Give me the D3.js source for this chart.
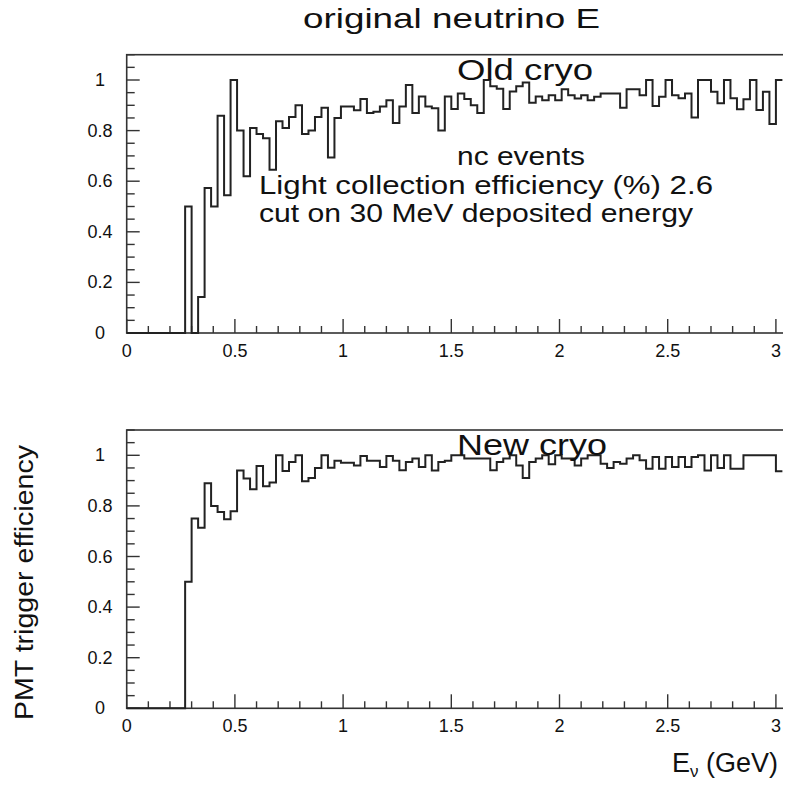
<!DOCTYPE html>
<meta charset="utf-8">
<style>
body { margin: 0; background: #fff; }
svg { font-family: "Liberation Sans", "DejaVu Sans", sans-serif; }
.frame { fill: none; stroke: #333; stroke-width: 1.6px; }
.hist { fill: none; stroke: #222; stroke-width: 2px; }
.tick { stroke: #333; stroke-width: 1.4px; }
.lbl { font-size: 18px; fill: #111; }
.note { fill: #111; }
</style>
<body>
<script src="https://d3js.org/d3.v7.min.js"></script>
<script>

// histogram bins: 0.03 GeV wide, first filled bin starts at 0.27 GeV
var firstBin = 0.27, binWidth = 0.03;

// Old cryo efficiency per bin (0.27 .. 3.03 GeV)
var oldCryo = [
  0.50, 0, 0.142, 0.573, 0.50, 0.859, 0.544, 1.0, 0.80, 0.62,
  0.81, 0.787, 0.77, 0.645, 0.837, 0.81, 0.854, 0.90, 0.787, 0.80,
  0.854, 0.89, 0.694, 0.85, 0.895, 0.895, 0.88, 0.925, 0.87, 0.875,
  0.895, 0.92, 0.83, 0.895, 0.98, 0.87, 0.935, 0.895, 0.888, 0.80,
  0.935, 0.885, 0.947, 0.925, 0.90, 0.87, 1.0, 0.975, 0.965, 0.885,
  0.955, 0.975, 0.99, 0.91, 0.935, 0.92, 0.94, 0.92, 0.963, 0.94,
  0.927, 0.94, 0.92, 0.934, 0.947, 0.947, 0.947, 0.89, 0.963, 0.963,
  0.94, 1.0, 0.897, 0.934, 1.0, 0.94, 0.928, 0.947, 0.852, 1.0,
  1.0, 0.954, 0.908, 1.0, 0.928, 0.884, 0.924, 1.0, 0.881, 0.954,
  0.826, 1.0
];

// New cryo efficiency per bin (0.27 .. 3.03 GeV)
var newCryo = [
  0.50, 0.75, 0.714, 0.89, 0.80, 0.776, 0.747, 0.779, 0.94, 0.908,
  0.866, 0.958, 0.878, 0.892, 1.0, 0.938, 0.974, 1.0, 0.897, 0.91,
  0.95, 1.0, 0.951, 0.978, 0.971, 0.971, 0.96, 0.997, 0.978, 0.978,
  0.954, 0.997, 0.978, 0.941, 0.974, 0.987, 0.954, 1.0, 0.94, 0.974,
  0.978, 1.0, 1.0, 0.987, 0.987, 0.987, 0.987, 0.941, 0.974, 0.987,
  1.0, 0.96, 0.91, 0.974, 0.987, 1.0, 0.965, 1.0, 0.987, 0.987,
  0.96, 0.987, 1.0, 1.0, 0.967, 0.95, 0.974, 0.967, 0.987, 1.0,
  0.98, 0.947, 0.993, 0.947, 0.993, 0.954, 0.993, 0.954, 0.993, 1.0,
  0.94, 1.0, 0.95, 1.0, 0.947, 0.947, 1.0, 1.0, 1.0, 1.0,
  1.0, 0.937
];

var xTicks = [0, 0.5, 1, 1.5, 2, 2.5, 3];
var yTicks = [0, 0.2, 0.4, 0.6, 0.8, 1];
var tickFmt = d3.format("~g");

var W = 788, H = 785;
var svg = d3.select("body").append("svg")
    .attr("width", W)
    .attr("height", H);

// the original picture is cut off on the right
svg.append("clipPath").attr("id", "cut")
  .append("rect").attr("x", 0).attr("y", 0).attr("width", 783).attr("height", H);
var root = svg.append("g").attr("clip-path", "url(#cut)");

var x = d3.scaleLinear().domain([0, 3.03]).range([126.7, 782.4]);

var panels = [
  {data: oldCryo, top: 54.7, bottom: 333, label: "Old cryo", lx: 457, ly: 80, lw: 136},
  {data: newCryo, top: 430, bottom: 708.3, label: "New cryo", lx: 457, ly: 455, lw: 150}
];

var stepLine = d3.line()
    .curve(d3.curveStepAfter);

// text placed at (x, y) and stretched to the measured width
function note(txt, xPos, yPos, size, len) {
  return root.append("text").attr("class", "note")
      .attr("x", xPos).attr("y", yPos)
      .style("font-size", size + "px")
      .attr("textLength", len)
      .attr("lengthAdjust", "spacingAndGlyphs")
      .text(txt);
}

panels.forEach(function(p) {
  var y = d3.scaleLinear().domain([0, 1.1]).range([p.bottom, p.top]);
  var g = root.append("g");

  // frame (right side falls outside the picture)
  g.append("rect").attr("class", "frame")
      .attr("x", x(0)).attr("y", y(1.1))
      .attr("width", 800 - x(0)).attr("height", y(0) - y(1.1));

  // x ticks (inward, from the bottom)
  d3.range(0, 31).forEach(function(i) {
    var v = i / 10, major = i % 5 === 0;
    g.append("line").attr("class", "tick")
        .attr("x1", x(v)).attr("x2", x(v))
        .attr("y1", y(0)).attr("y2", y(0) - (major ? 14 : 7));
  });
  g.selectAll(".xl").data(xTicks).enter().append("text")
      .attr("class", "lbl")
      .attr("x", function(d) { return x(d); })
      .attr("y", y(0) + 24)
      .attr("text-anchor", "middle")
      .text(tickFmt);

  // y ticks (inward, from the left)
  d3.range(0, 23).forEach(function(i) {
    var v = i * 0.05, major = i % 4 === 0;
    g.append("line").attr("class", "tick")
        .attr("x1", x(0)).attr("x2", x(0) + (major ? 13 : 8))
        .attr("y1", y(v)).attr("y2", y(v));
  });
  g.selectAll(".yl").data(yTicks).enter().append("text")
      .attr("class", "lbl")
      .attr("x", 100)
      .attr("y", function(d) { return y(d) + 6; })
      .attr("text-anchor", "middle")
      .text(tickFmt);

  // histogram
  var pts = [[0, 0], [firstBin, p.data[0]]];
  p.data.forEach(function(v, i) {
    if (i > 0) pts.push([firstBin + i * binWidth, v]);
  });
  pts.push([firstBin + p.data.length * binWidth, p.data[p.data.length - 1]]);
  g.append("path").attr("class", "hist")
      .attr("d", stepLine(pts.map(function(d) { return [x(d[0]), y(d[1])]; })));

  note(p.label, p.lx, p.ly, 30, p.lw);
});

// title
note("original neutrino E", 303, 28, 28, 297);

// annotations, top panel
note("nc events", 457, 165, 26, 128);
note("Light collection efficiency (%) 2.6", 259, 194, 26, 454);
note("cut on 30 MeV deposited energy", 259, 222, 26, 434);

// axis titles
root.append("text").attr("class", "note")
    .attr("transform", "translate(33,720) rotate(-90)")
    .style("font-size", "25px")
    .attr("textLength", 275)
    .attr("lengthAdjust", "spacingAndGlyphs")
    .text("PMT trigger efficiency");

var ex = root.append("text").attr("class", "note")
    .attr("x", 672).attr("y", 772)
    .style("font-size", "27px");
ex.append("tspan").text("E");
ex.append("tspan").attr("dy", 5).style("font-size", "17px").text("ν");
ex.append("tspan").attr("dy", -5).text(" (GeV)");

</script>
</body>
